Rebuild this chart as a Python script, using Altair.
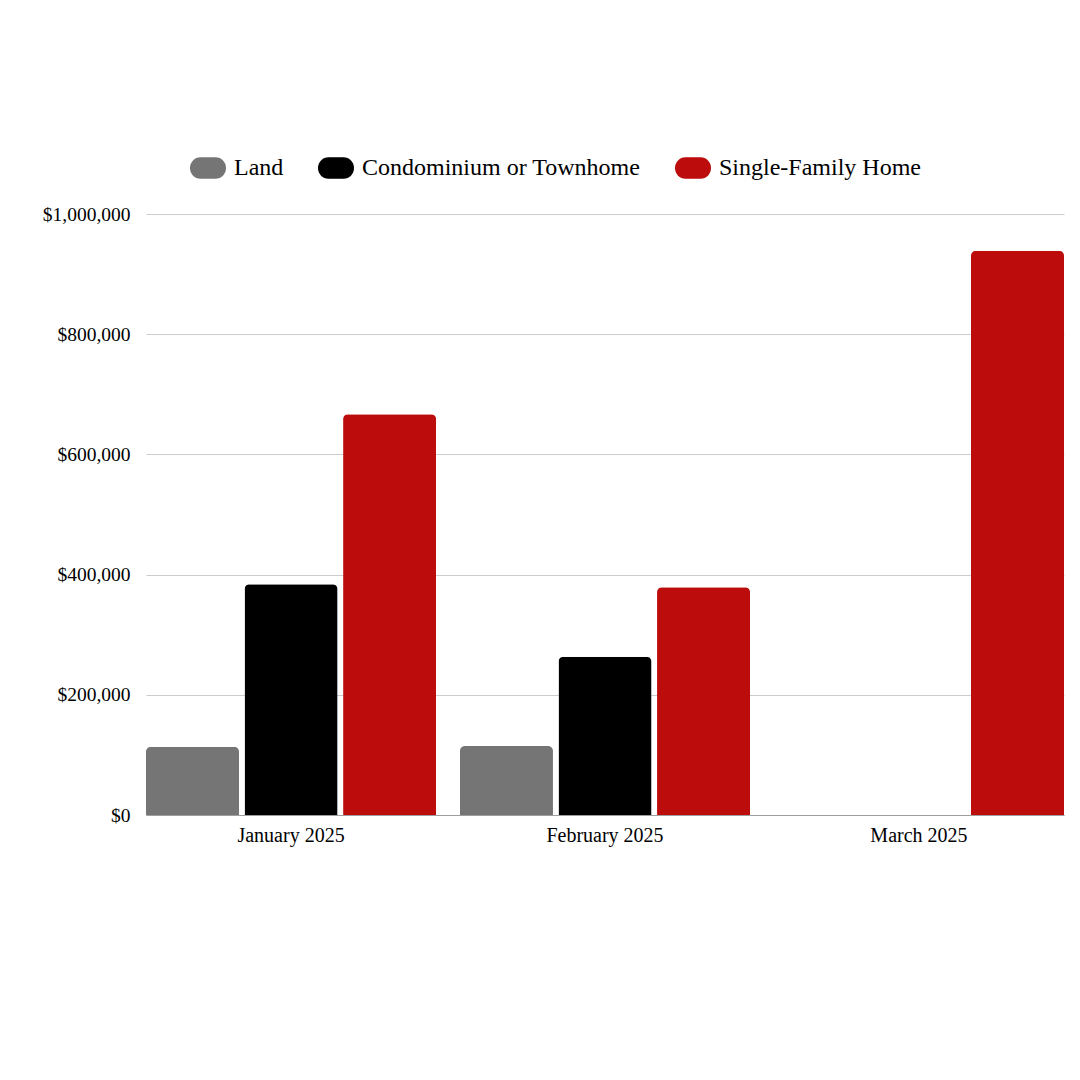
import altair as alt
import pandas as pd

months = ["January 2025", "February 2025", "March 2025"]
types = ["Land", "Condominium or Townhome", "Single-Family Home"]
land = [113600, 114800, None]
condo = [383900, 263400, None]
sfh = [666700, 378800, 938900]
colors = ["#757575", "#000000", "#bc0c0c"]
y_ticks = [0, 200000, 400000, 600000, 800000, 1000000]

rows = []
for i, m in enumerate(months):
    for t, series in zip(types, [land, condo, sfh]):
        if series[i] is not None:
            rows.append({"month": m, "type": t, "value": series[i]})
df = pd.DataFrame(rows)

FONT = "Liberation Serif"
pill = "M -0.42,-0.6 L 0.42,-0.6 A 0.58,0.6 0 0 1 0.42,0.6 L -0.42,0.6 A 0.58,0.6 0 0 1 -0.42,-0.6 Z"

chart = alt.Chart(df).mark_bar(cornerRadiusTopLeft=5, cornerRadiusTopRight=5).encode(
    x=alt.X("month:N", sort=months, title=None,
            scale=alt.Scale(paddingInner=0.076, paddingOuter=0),
            axis=alt.Axis(labelAngle=0, labelFont=FONT, labelFontSize=20, labelColor="#000",
                          ticks=False, domainColor="#9e9e9e", labelPadding=10)),
    xOffset=alt.XOffset("type:N", sort=types,
                        scale=alt.Scale(paddingInner=0.056, paddingOuter=0)),
    y=alt.Y("value:Q", title=None,
            scale=alt.Scale(domain=[0, 1000000], nice=False),
            axis=alt.Axis(values=y_ticks, format="$,.0f", labelFont=FONT, labelFontSize=19.5,
                          labelColor="#000", ticks=False, domain=False, gridColor="#cccccc",
                          labelPadding=16)),
    color=alt.Color("type:N", sort=types,
                    scale=alt.Scale(domain=types, range=colors),
                    legend=alt.Legend(title=None, orient="none", direction="horizontal",
                                      legendX=44, legendY=-64,
                                      symbolType=pill, symbolSize=1296, symbolStrokeWidth=0,
                                      labelFont=FONT, labelFontSize=24, labelColor="#000",
                                      labelLimit=0, columnPadding=34, labelOffset=8)),
).properties(
    width=918, height=601,
    autosize=alt.AutoSizeParams(type="none"),
    padding={"left": 138, "top": 206, "right": 8, "bottom": 200},
).configure_view(stroke=None)

chart.save("out.html", embed_options={"renderer": "svg", "actions": False})
